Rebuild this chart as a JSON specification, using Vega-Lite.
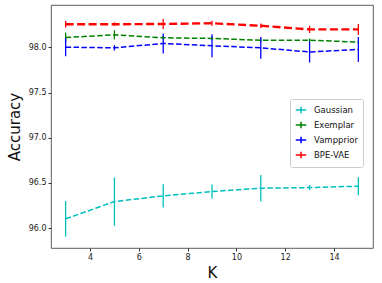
{
  "$schema": "https://vega.github.io/schema/vega-lite/v6.json",
  "width": 322,
  "height": 243,
  "autosize": {"type": "none"},
  "padding": {"left": 51, "top": 5, "right": 9, "bottom": 35},
  "background": "white",
  "config": {
    "font": "DejaVu Sans",
    "view": {"stroke": "#333333", "strokeWidth": 0.8},
    "axis": {"grid": false, "domain": false, "tickColor": "#333333", "tickSize": 3, "labelFontSize": 8, "labelColor": "#222222", "titleFontWeight": "normal", "titleFontSize": 15, "titleColor": "#111111", "labelFont": "DejaVu Sans", "titleFont": "DejaVu Sans"}
  },
  "data": {
    "values": [
      {"K": 3, "acc": 96.103, "lo": 95.906, "hi": 96.3, "method": "Gaussian"},
      {"K": 5, "acc": 96.294, "lo": 96.027, "hi": 96.561, "method": "Gaussian"},
      {"K": 7, "acc": 96.357, "lo": 96.228, "hi": 96.486, "method": "Gaussian"},
      {"K": 9, "acc": 96.405, "lo": 96.328, "hi": 96.482, "method": "Gaussian"},
      {"K": 11, "acc": 96.442, "lo": 96.295, "hi": 96.589, "method": "Gaussian"},
      {"K": 13, "acc": 96.449, "lo": 96.421, "hi": 96.477, "method": "Gaussian"},
      {"K": 15, "acc": 96.464, "lo": 96.364, "hi": 96.564, "method": "Gaussian"},
      {"K": 3, "acc": 98.11, "lo": 98.055, "hi": 98.165, "method": "Exemplar"},
      {"K": 5, "acc": 98.14, "lo": 98.09, "hi": 98.19, "method": "Exemplar"},
      {"K": 7, "acc": 98.107, "lo": 98.087, "hi": 98.127, "method": "Exemplar"},
      {"K": 9, "acc": 98.1, "lo": 98.08, "hi": 98.12, "method": "Exemplar"},
      {"K": 11, "acc": 98.08, "lo": 98.06, "hi": 98.1, "method": "Exemplar"},
      {"K": 13, "acc": 98.08, "lo": 98.06, "hi": 98.1, "method": "Exemplar"},
      {"K": 15, "acc": 98.06, "lo": 98.04, "hi": 98.08, "method": "Exemplar"},
      {"K": 3, "acc": 98.003, "lo": 97.903, "hi": 98.103, "method": "Vampprior"},
      {"K": 5, "acc": 97.996, "lo": 97.966, "hi": 98.026, "method": "Vampprior"},
      {"K": 7, "acc": 98.044, "lo": 97.934, "hi": 98.154, "method": "Vampprior"},
      {"K": 9, "acc": 98.018, "lo": 97.891, "hi": 98.145, "method": "Vampprior"},
      {"K": 11, "acc": 97.996, "lo": 97.876, "hi": 98.116, "method": "Vampprior"},
      {"K": 13, "acc": 97.95, "lo": 97.834, "hi": 98.066, "method": "Vampprior"},
      {"K": 15, "acc": 97.978, "lo": 97.84, "hi": 98.116, "method": "Vampprior"},
      {"K": 3, "acc": 98.257, "lo": 98.22, "hi": 98.294, "method": "BPE-VAE"},
      {"K": 5, "acc": 98.257, "lo": 98.237, "hi": 98.277, "method": "BPE-VAE"},
      {"K": 7, "acc": 98.26, "lo": 98.205, "hi": 98.315, "method": "BPE-VAE"},
      {"K": 9, "acc": 98.268, "lo": 98.24, "hi": 98.296, "method": "BPE-VAE"},
      {"K": 11, "acc": 98.24, "lo": 98.215, "hi": 98.265, "method": "BPE-VAE"},
      {"K": 13, "acc": 98.2, "lo": 98.16, "hi": 98.24, "method": "BPE-VAE"},
      {"K": 15, "acc": 98.2, "lo": 98.14, "hi": 98.26, "method": "BPE-VAE"}
    ]
  },
  "encoding": {
    "x": {"field": "K", "type": "quantitative", "scale": {"domain": [2.4, 15.6], "nice": false, "zero": false}, "axis": {"values": [4, 6, 8, 10, 12, 14], "title": "K", "labelPadding": 2, "titlePadding": 4}},
    "color": {
      "field": "method", "type": "nominal",
      "scale": {"domain": ["Gaussian", "Exemplar", "Vampprior", "BPE-VAE"], "range": ["#00bfbf", "#008000", "#0000ff", "#ff0000"]},
      "legend": {"title": null, "orient": "none", "legendX": 239, "legendY": 94, "labelFontSize": 8.5, "labelColor": "#111111", "symbolType": "M-1,0L1,0M0,-0.6L0,0.6", "symbolStrokeWidth": 1.5, "symbolSize": 110, "rowPadding": 1, "padding": 5, "labelOffset": 7, "strokeColor": "#cccccc", "fillColor": "white", "cornerRadius": 2, "labelLimit": 200}
    }
  },
  "layer": [
    {
      "mark": {"type": "rule", "strokeWidth": 1.3},
      "encoding": {
        "y": {"field": "lo", "type": "quantitative"},
        "y2": {"field": "hi"}
      }
    },
    {
      "mark": {"type": "line", "strokeDash": [5.5, 2.4], "strokeWidth": 1.5},
      "transform": [{"filter": "datum.method != 'BPE-VAE'"}],
      "encoding": {
        "y": {"field": "acc", "type": "quantitative"}
      }
    },
    {
      "mark": {"type": "line", "strokeDash": [8, 3.5], "strokeWidth": 2.4},
      "transform": [{"filter": "datum.method == 'BPE-VAE'"}],
      "encoding": {
        "y": {"field": "acc", "type": "quantitative", "scale": {"domain": [95.78, 98.47], "nice": false, "zero": false}, "axis": {"values": [96.0, 96.5, 97.0, 97.5, 98.0], "format": ".1f", "title": "Accuracy", "labelPadding": 2, "titlePadding": 6}}
      }
    }
  ],
  "resolve": {"scale": {"y": "shared"}}
}
